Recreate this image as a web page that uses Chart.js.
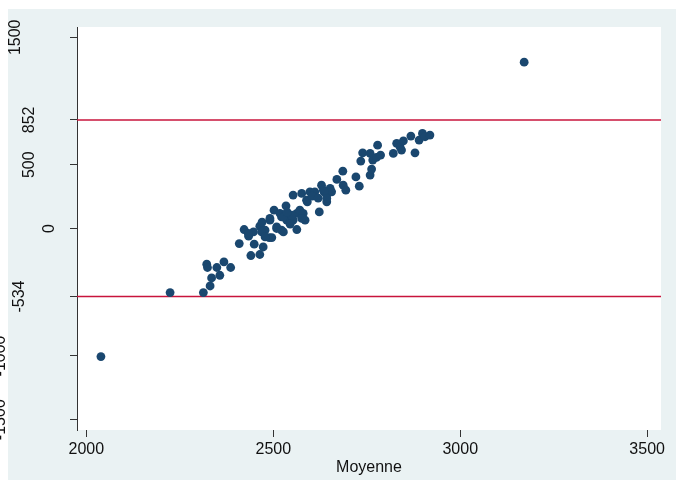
<!DOCTYPE html>
<html>
<head>
<meta charset="utf-8">
<script src="https://cdn.jsdelivr.net/npm/chart.js@4"></script>
<style>
  body { margin: 0; background: #fff; }
  #wrap { width: 676px; height: 490px; }
</style>
</head>
<body>
<div id="wrap"><canvas id="myChart" width="676" height="490"></canvas></div>
<script>
// values
const moyenne = [2224, 2313, 2331, 2335, 2357, 2322, 2324, 2349, 2368, 2386,
  2409, 2440, 2464, 2449, 2473, 2422, 2434, 2447, 2464, 2478,
  2489, 2496, 2491, 2502, 2509, 2522, 2527, 2534, 2522, 2536,
  2545, 2553, 2563, 2563, 2571, 2580, 2585, 2553, 2576, 2589,
  2598, 2611, 2623, 2629, 2634, 2643, 2643, 2652, 2656, 2670,
  2686, 2687, 2694, 2721, 2730, 2734, 2739, 2759, 2763, 2759,
  2766, 2776, 2779, 2787, 2821, 2830, 2839, 2848, 2843, 2868,
  2879, 2890, 2899, 2906, 2919, 2433, 2469, 2478, 2491, 2509,
  2518, 2527, 2549, 2576, 2591, 2636, 2643, 2470, 2545, 2537,
  2604, 2620, 2039, 3171];
const difference = [-503, -503, -451, -388, -367, -280, -306, -306, -262, -306,
  -118, -212, -204, -123, -145, -8, -60, -27, 18, -13,
  -71, -71, 65, 144, 13, -13, -27, 178, 91, 65,
  86, 65, -8, 118, 144, 118, 65, 262, 275, 222,
  288, 288, 130, 340, 301, 262, 209, 314, 288, 385,
  450, 340, 301, 405, 332, 529, 594, 419, 466, 589,
  537, 558, 654, 576, 589, 668, 641, 688, 615, 725,
  594, 694, 746, 720, 733, -39, -27, -66, 79, 0,
  118, 91, 104, 79, 209, 288, 236, 50, 34, 128,
  254, 238, -1005, 1305];

// limits of agreement
const limits = [852, -534];

const xTicks = [2000, 2500, 3000, 3500];
const yTicks = [-1500, -1000, -534, 0, 500, 852, 1500];
const yTickLabels = ['-1500', '-1000', '-534', '0', '500', '852', '1500'];

const xMin = 1975, xMax = 3537;
const yMin = -1581, yMax = 1581;

// where the rotated y labels sit (baseline x), like the original staggering
const yLabelBaseX = {'-1500': 5, '-1000': 5, '-534': 23.5, '0': 53.5, '500': 33.5, '852': 33.5, '1500': 20};

const FONT = 'Liberation Sans, Arial, Helvetica, sans-serif';

const points = moyenne.map((m, i) => ({x: m, y: difference[i]}));

const limitSets = limits.map(v => ({
  type: 'line',
  data: [{x: xMin, y: v}, {x: xMax, y: v}],
  borderColor: '#c8143c',
  borderWidth: 1.5,
  pointRadius: 0,
  order: 2
}));

// grey page and white plot region
const background = {
  id: 'background',
  beforeDraw: (chart) => {
    const ctx = chart.ctx;
    const {top, left, width, height} = chart.chartArea;
    ctx.save();
    ctx.fillStyle = '#ffffff';
    ctx.fillRect(0, 0, chart.width, chart.height);
    ctx.fillStyle = '#eaf2f3';
    ctx.fillRect(8, 9, chart.width - 8, 471);
    ctx.fillStyle = '#ffffff';
    ctx.fillRect(left, top, width, height);
    ctx.restore();
  }
};

// vertical y tick labels
const yLabels = {
  id: 'yLabels',
  afterDraw: (chart) => {
    const ctx = chart.ctx;
    const yScale = chart.scales.y;
    ctx.save();
    ctx.fillStyle = '#111';
    ctx.font = '16px ' + FONT;
    ctx.textAlign = 'center';
    ctx.textBaseline = 'alphabetic';
    yTicks.forEach((v, i) => {
      const lab = yTickLabels[i];
      ctx.save();
      ctx.translate(yLabelBaseX[lab], yScale.getPixelForValue(v));
      ctx.rotate(-Math.PI / 2);
      ctx.fillText(lab, 0, 0);
      ctx.restore();
    });
    ctx.restore();
  }
};

const config = {
  type: 'scatter',
  data: {
    datasets: [{
      label: 'Difference',
      data: points,
      backgroundColor: '#1a476f',
      borderColor: '#1a476f',
      pointRadius: 4.4,
      borderWidth: 0,
      order: 1
    }].concat(limitSets)
  },
  plugins: [background, yLabels],
  options: {
    responsive: false,
    animation: false,
    layout: { padding: {top: 27, right: 15, bottom: 0, left: 0} },
    plugins: {
      legend: { display: false },
      tooltip: { enabled: false }
    },
    scales: {
      x: {
        type: 'linear',
        min: xMin,
        max: xMax,
        afterBuildTicks: (scale) => { scale.ticks = xTicks.map(v => ({value: v})); },
        afterFit: (scale) => { scale.height = 60; },
        ticks: {
          font: {family: FONT, size: 16},
          color: '#111',
          padding: 3,
          maxRotation: 0,
          autoSkip: false,
          callback: (v) => String(v)
        },
        grid: { drawOnChartArea: false, drawTicks: true, tickLength: 7, color: '#333' },
        border: { display: false },
        title: {
          display: true,
          text: 'Moyenne',
          font: {family: FONT, size: 16},
          color: '#111',
          padding: {top: 0, bottom: 13}
        }
      },
      y: {
        type: 'linear',
        min: yMin,
        max: yMax,
        afterBuildTicks: (scale) => { scale.ticks = yTicks.map(v => ({value: v})); },
        afterFit: (scale) => { scale.width = 77; },
        ticks: { display: false },
        grid: { drawOnChartArea: false, drawTicks: true, tickLength: 7, color: '#333' },
        border: { display: true, color: '#333', width: 1 }
      }
    }
  }
};

const ctx = document.getElementById('myChart').getContext('2d');
const myChart = new Chart(ctx, config);
</script>
</body>
</html>
